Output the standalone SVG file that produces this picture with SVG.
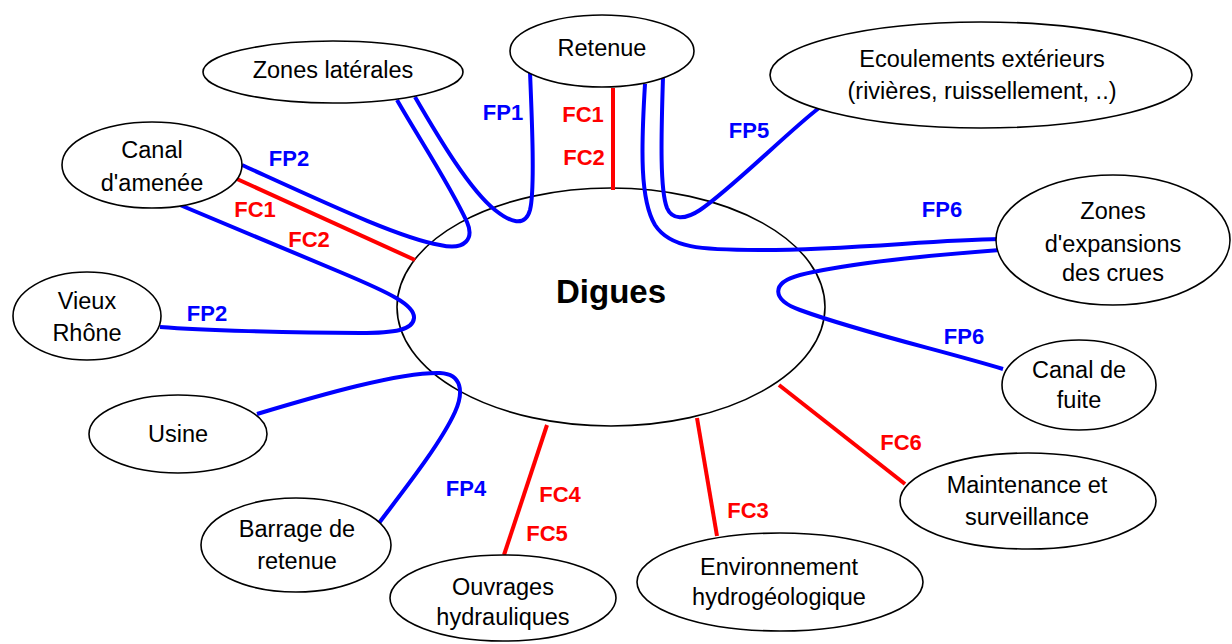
<svg xmlns="http://www.w3.org/2000/svg" width="1232" height="644" viewBox="0 0 1232 644">
<style>
.node ellipse{fill:#fff;stroke:#000;stroke-width:1.6}
.node text{font-family:"Liberation Sans",Arial,sans-serif;font-size:23.5px;fill:#000;text-anchor:middle}
.fp{fill:none;stroke:#0000ff;stroke-width:4;stroke-linecap:butt}
.fc{fill:none;stroke:#ff0000;stroke-width:4}
.lbl{font-family:"Liberation Sans",Arial,sans-serif;font-size:22px;font-weight:bold;text-anchor:middle}
.lp{fill:#0000ff}
.lc{fill:#ff0000}
</style>
<rect width="1232" height="644" fill="#fff"/>
<g id="digues" class="node">
<ellipse cx="611" cy="307" rx="214" ry="119"/>
<text x="611" y="303" style="font-weight:bold;font-size:33px">Digues</text>
</g>
<g id="connectors">
<path class="fp" d="M242,165 C330,205 400,238 440,245 C466,251 474,238 467,222 C450,185 420,140 397,100"/>
<path class="fp" d="M415,97 C440,140 470,190 495,210 C510,222 525,228 530,210 C535,190 532,120 530,72"/>
<path class="fp" d="M645,84 C641,150 640,200 655,225 C670,248 700,250 760,250 C850,250 930,240 1000,239"/>
<path class="fp" d="M663,77 C661,140 660,190 667,208 C672,220 685,220 700,210 C730,190 790,130 819,108"/>
<path class="fp" d="M1000,250 C920,256 840,265 800,275 C770,283 772,300 800,310 C860,332 940,350 1003,369"/>
<path class="fp" d="M180,205 L340,272 C390,293 415,305 414,318 C413,330 395,333 360,333 C290,333 200,330 160,327"/>
<path class="fp" d="M257,414 C320,395 400,372 440,373 C462,374 464,392 455,412 C440,445 400,495 379,523"/>
<line class="fc" x1="237" y1="179" x2="415" y2="260"/>
<line class="fc" x1="613" y1="88" x2="613" y2="190"/>
<line class="fc" x1="547" y1="425" x2="504" y2="555"/>
<line class="fc" x1="697" y1="418" x2="717" y2="536"/>
<line class="fc" x1="779" y1="385" x2="905" y2="484"/>
<text class="lbl lp" x="503" y="120">FP1</text>
<text class="lbl lc" x="583" y="122">FC1</text>
<text class="lbl lc" x="584" y="165">FC2</text>
<text class="lbl lp" x="749" y="138">FP5</text>
<text class="lbl lp" x="942" y="217">FP6</text>
<text class="lbl lp" x="964" y="344">FP6</text>
<text class="lbl lp" x="289" y="166">FP2</text>
<text class="lbl lc" x="255" y="217">FC1</text>
<text class="lbl lc" x="309" y="247">FC2</text>
<text class="lbl lp" x="207" y="321">FP2</text>
<text class="lbl lp" x="466" y="496">FP4</text>
<text class="lbl lc" x="560" y="502">FC4</text>
<text class="lbl lc" x="547" y="541">FC5</text>
<text class="lbl lc" x="748" y="518">FC3</text>
<text class="lbl lc" x="901" y="450">FC6</text>
</g>
<g id="retenue" class="node">
<ellipse cx="602" cy="51" rx="92" ry="36"/>
<text x="602" y="56">Retenue</text>
</g>
<g id="zones-laterales" class="node">
<ellipse cx="333" cy="72" rx="130" ry="31"/>
<text x="333" y="78">Zones latérales</text>
</g>
<g id="canal-amenee" class="node">
<ellipse cx="152" cy="165" rx="90" ry="43"/>
<text x="152" y="158">Canal</text>
<text x="152" y="191">d'amenée</text>
</g>
<g id="vieux-rhone" class="node">
<ellipse cx="87" cy="316" rx="74" ry="44"/>
<text x="87" y="309">Vieux</text>
<text x="87" y="341">Rhône</text>
</g>
<g id="usine" class="node">
<ellipse cx="178" cy="434" rx="89" ry="39"/>
<text x="178" y="442">Usine</text>
</g>
<g id="barrage" class="node">
<ellipse cx="296" cy="545" rx="95" ry="47"/>
<text x="297" y="537">Barrage de</text>
<text x="297" y="569">retenue</text>
</g>
<g id="ouvrages" class="node">
<ellipse cx="503" cy="598" rx="113" ry="43"/>
<text x="503" y="595">Ouvrages</text>
<text x="503" y="625">hydrauliques</text>
</g>
<g id="environnement" class="node">
<ellipse cx="780" cy="582" rx="143" ry="49"/>
<text x="779" y="575">Environnement</text>
<text x="779" y="605">hydrogéologique</text>
</g>
<g id="maintenance" class="node">
<ellipse cx="1028" cy="501" rx="128" ry="48"/>
<text x="1027" y="493">Maintenance et</text>
<text x="1027" y="525">surveillance</text>
</g>
<g id="canal-fuite" class="node">
<ellipse cx="1079" cy="385" rx="77" ry="45"/>
<text x="1079" y="378">Canal de</text>
<text x="1079" y="408">fuite</text>
</g>
<g id="zones-expansion" class="node">
<ellipse cx="1113" cy="240" rx="117" ry="65"/>
<text x="1113" y="219">Zones</text>
<text x="1113" y="252">d'expansions</text>
<text x="1113" y="281">des crues</text>
</g>
<g id="ecoulements" class="node">
<ellipse cx="981" cy="75" rx="211" ry="53"/>
<text x="982" y="67">Ecoulements extérieurs</text>
<text x="982" y="99">(rivières, ruissellement, ..)</text>
</g>
</svg>
